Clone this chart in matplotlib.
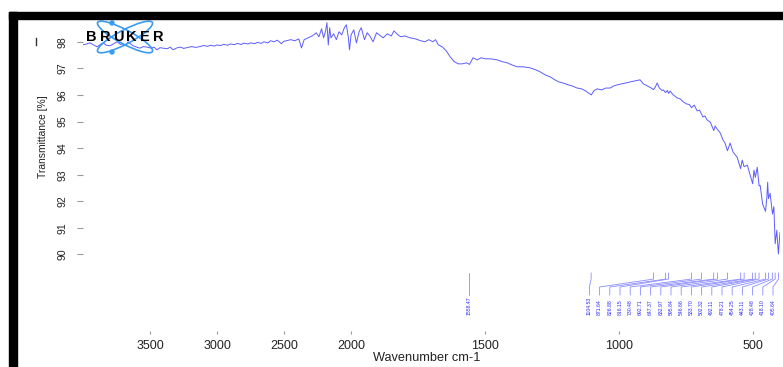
import numpy as np
import matplotlib
matplotlib.use('Agg')
from matplotlib import pyplot as plt
from matplotlib import transforms
from matplotlib.patches import Rectangle, Ellipse, Circle
from matplotlib.lines import Line2D

# FT-IR spectrum: wavenumber (cm-1) and transmittance (%)
wavenumber = [4000, 3992, 3948, 3920, 3895, 3870, 3851, 3825, 3798, 3770,
              3746, 3720, 3701, 3680, 3664, 3630, 3600, 3575, 3550, 3522,
              3490, 3470, 3448, 3425, 3403, 3370, 3350, 3328, 3300, 3270,
              3250, 3224, 3190, 3160, 3127, 3100, 3070, 3050, 3020, 3000,
              2975, 2950, 2920, 2900, 2870, 2850, 2820, 2800, 2770, 2750,
              2720, 2700, 2670, 2650, 2620, 2600, 2575, 2550, 2520, 2500,
              2450, 2420, 2390, 2370, 2350, 2320, 2290, 2260,
              2240, 2220, 2205, 2190, 2180, 2170, 2160, 2150, 2130, 2110,
              2090, 2070, 2050, 2035, 2020, 2012, 2000, 1990, 1980, 1970,
              1962, 1950, 1940, 1930, 1918, 1905, 1890, 1880, 1865, 1850,
              1840, 1825, 1815, 1800, 1780, 1760, 1740, 1725, 1710, 1695,
              1685, 1675, 1660, 1645, 1630, 1615, 1600, 1585, 1570, 1558,
              1545, 1530, 1515, 1500, 1480, 1455, 1435, 1418, 1400, 1381,
              1360, 1332, 1310, 1295, 1275, 1257, 1240, 1225, 1209, 1190,
              1175, 1157, 1140, 1125, 1110, 1104, 1095, 1082, 1065, 1050,
              1034, 1020, 1007, 990, 975, 959, 940, 922, 910, 895,
              880, 872, 865, 858, 850, 840, 835, 827, 820, 816,
              810, 800, 784, 772, 761, 748, 738, 730, 720, 709,
              700, 692, 687, 680, 672, 660, 647, 642, 633, 623,
              612, 605, 596, 586, 575, 560, 547, 541, 534, 522,
              511, 502, 497, 492, 485, 478, 474, 465, 454, 449,
              446, 443, 437, 428, 423, 418, 412, 406, 400]
transmittance = [97.90, 97.89, 97.96, 97.88, 97.81, 97.90, 97.96, 97.87, 97.85, 97.93,
                 98.00, 97.90, 97.92, 97.86, 98.00, 97.86, 97.80, 97.76, 97.82, 97.80,
                 97.76, 97.80, 97.70, 97.78, 97.76, 97.74, 97.80, 97.70, 97.77, 97.80,
                 97.75, 97.78, 97.82, 97.79, 97.82, 97.86, 97.83, 97.87, 97.84, 97.88,
                 97.86, 97.90, 97.87, 97.92, 97.89, 97.94, 97.90, 97.95, 97.92, 97.96,
                 97.93, 97.98, 97.94, 98.00, 97.96, 98.04, 98.00, 98.06, 97.93, 98.02,
                 98.08, 98.04, 98.11, 97.77, 98.08, 98.15, 98.22, 98.34,
                 98.19, 98.49, 98.15, 98.41, 98.72, 97.88, 98.53, 98.15, 98.30, 98.08,
                 98.38, 98.26, 98.53, 98.64, 98.15, 97.70, 98.26, 98.45, 97.96, 98.38,
                 98.53, 98.08, 98.34, 98.22, 98.00, 98.34, 98.22, 98.15, 98.30, 98.22,
                 98.41, 98.26, 98.19, 98.22, 98.15, 98.11, 98.04, 98.00, 98.08, 98.00,
                 98.08, 97.89, 97.81, 97.66, 97.43, 97.25, 97.17, 97.17, 97.21, 97.15,
                 97.40, 97.32, 97.40, 97.36, 97.36, 97.32, 97.25, 97.21, 97.13, 97.06,
                 97.06, 97.02, 96.94, 96.87, 96.75, 96.68, 96.57, 96.49, 96.45, 96.38,
                 96.34, 96.26, 96.23, 96.15, 96.04, 96.00, 96.15, 96.23, 96.19, 96.26,
                 96.26, 96.34, 96.38, 96.42, 96.45, 96.49, 96.53, 96.57, 96.42, 96.34,
                 96.26, 96.20, 96.30, 96.45, 96.26, 96.17, 96.19, 96.09, 96.17, 96.06,
                 96.15, 96.02, 95.89, 95.85, 95.74, 95.66, 95.64, 95.52, 95.62, 95.40,
                 95.43, 95.26, 95.17, 95.21, 95.06, 94.98, 94.66, 94.83, 94.70, 94.57,
                 94.30, 94.19, 93.90, 94.19, 93.85, 93.66, 93.23, 93.55, 93.30, 93.36,
                 92.98, 92.66, 93.17, 92.90, 93.28, 92.58, 92.60, 91.90, 91.62, 92.15,
                 92.72, 92.10, 92.30, 91.52, 91.80, 90.40, 90.91, 90.02, 90.83]

# picked peaks
peaks = [1558.47, 1104.53, 871.64, 826.88, 816.15, 730.48, 692.71, 647.37,
         632.97, 595.84, 546.66, 533.70, 502.32, 492.11, 478.21, 454.25,
         443.11, 428.48, 418.10, 405.64]

xticks = [3500, 3000, 2500, 2000, 1500, 1000, 500]
yticks = [90, 91, 92, 93, 94, 95, 96, 97, 98]

W, H = 783, 367
plt.rcParams['font.family'] = ['Liberation Sans', 'DejaVu Sans']
fig = plt.figure(figsize=(W / 100, H / 100), dpi=100)
fig.patch.set_facecolor('white')

# pixel coordinates, origin top left
pix = transforms.Affine2D().scale(1 / W, -1 / H).translate(0, 1) + fig.transFigure


def box(x0, y0, x1, y1):
    return [x0 / W, 1 - y1 / H, (x1 - x0) / W, (y1 - y0) / H]


ax = fig.add_axes(box(83, 20, 780, 331))


# OPUS style axis: range above 2000 cm-1 shown at half scale
def fwd(w):
    w = np.asarray(w, dtype=float)
    return np.where(w > 2000, 2000 + (w - 2000) / 2, w)


def inv(u):
    u = np.asarray(u, dtype=float)
    return np.where(u > 2000, 2000 + (u - 2000) * 2, u)


ax.set_xscale('function', functions=(fwd, inv))
ax.plot(wavenumber, transmittance, color='#5c5cff', lw=0.7)
ax.set_xlim(4000, 400)
ax.set_ylim(87.12, 98.82)

for s in ax.spines.values():
    s.set_visible(False)
ax.set_xticks(xticks)
ax.set_xticklabels([str(t) for t in xticks])
ax.set_yticks(yticks)
ax.set_yticklabels([str(t) for t in yticks])
ax.minorticks_off()
ax.tick_params(axis='x', direction='out', length=2.3, width=0.8, color='#9a9a9a',
               pad=4, labelsize=9, labelcolor='#222222')
ax.tick_params(axis='y', direction='out', length=4.3, width=0.8, color='#9a9a9a',
               pad=7, labelsize=7.5, labelcolor='#222222', labelrotation=90)
for lab in ax.get_yticklabels():
    lab.set_va('center')

ax.set_xlabel('Wavenumber cm-1', fontsize=9.2, color='#222222')
ax.xaxis.set_label_coords(0.4935, -0.068)
ax.set_ylabel('Transmittance [%]', fontsize=7.4, color='#222222')
ax.yaxis.set_label_coords(-0.05, 0.624)

# peak labels, packed from the right so they do not overlap
blend = transforms.blended_transform_factory(ax.transData, ax.transAxes)
peak_px = [ax.transData.transform((p, 95))[0] for p in peaks]
spacing = 10.2
edge = ax.bbox.x1 - 7
label_px = []
prev = None
for x in peak_px[::-1]:
    lim = edge if prev is None else prev - spacing
    prev = min(x, lim)
    label_px.append(prev)
label_px = label_px[::-1]
label_w = [ax.transData.inverted().transform((x, 95))[0] for x in label_px]

for p, lw_ in zip(peaks, label_w):
    ax.plot([p, p, lw_, lw_], [0.1865, 0.167, 0.1415, 0.116], transform=blend,
            color='#8c8cff', lw=0.6, clip_on=False)
    ax.text(lw_, 0.0514, '{:.2f}'.format(p), rotation=90, ha='center', va='bottom',
            transform=blend, fontsize=3.7, color='#2a2aff')

# Bruker logo
for ang in (28, -28):
    fig.patches.append(Ellipse((125, 37), 62, 14, angle=ang, fill=False,
                               ec='#3a9cf0', lw=1.2, transform=pix))
for cx, cy in ((112, 23), (112, 52)):
    fig.patches.append(Circle((cx, cy), 2, color='#3a9cf0', transform=pix))
for i, ch in enumerate('BRUKER'):
    fig.text(91.7 + i * 13.3, 37, ch, transform=pix, fontsize=10.5, fontweight='bold',
             ha='center', va='center', color='black')

# window frame
fig.patches.append(Rectangle((9, 12), 774, 7.3, color='black', transform=pix))
fig.patches.append(Rectangle((9, 12), 8.3, 355, color='black', transform=pix))
fig.lines.append(Line2D([36, 36], [38, 45], color='#333333', lw=1, transform=pix))

fig.savefig('out.png', dpi=100)
